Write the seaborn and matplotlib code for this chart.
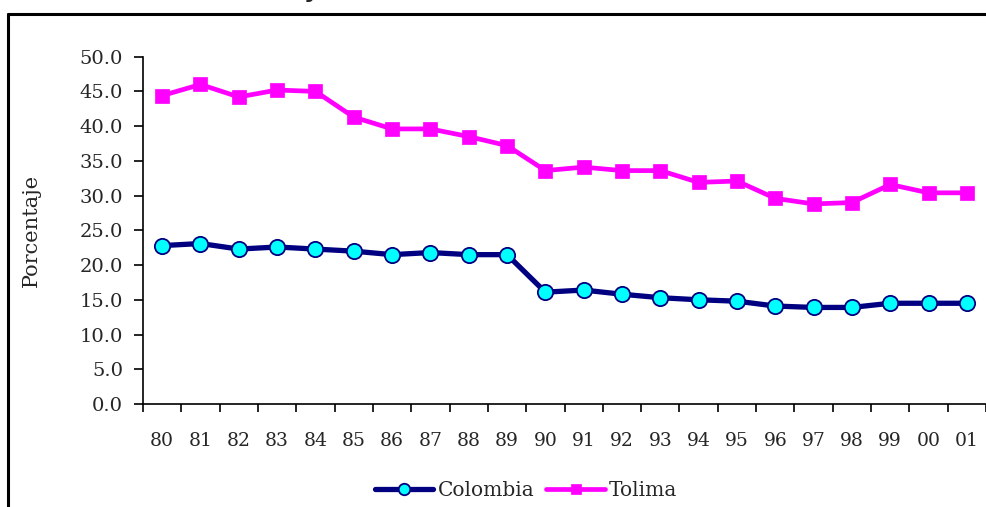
import matplotlib
matplotlib.use("Agg")
import matplotlib.pyplot as plt
from matplotlib.lines import Line2D
import seaborn as sns
import pandas as pd

years = ["80", "81", "82", "83", "84", "85", "86", "87", "88", "89", "90",
         "91", "92", "93", "94", "95", "96", "97", "98", "99", "00", "01"]
colombia = [22.8, 23.1, 22.3, 22.6, 22.3, 22.0, 21.5, 21.8, 21.5, 21.5, 16.1,
            16.4, 15.8, 15.3, 15.0, 14.8, 14.1, 13.9, 13.9, 14.5, 14.5, 14.5]
tolima = [44.4, 46.0, 44.2, 45.2, 45.0, 41.3, 39.6, 39.6, 38.5, 37.2, 33.6,
          34.1, 33.6, 33.6, 31.9, 32.1, 29.6, 28.8, 29.0, 31.6, 30.4, 30.4]
series_names = ["Colombia", "Tolima"]
yticks = [0, 5, 10, 15, 20, 25, 30, 35, 40, 45, 50]

sns.set_theme(style="white")
plt.rcParams["font.family"] = ["DejaVu Serif"]

df = pd.DataFrame({"pos": list(range(len(years))) * 2,
                   "valor": colombia + tolima,
                   "serie": [series_names[0]] * len(years) + [series_names[1]] * len(years)})

fig = plt.figure(figsize=(9.87, 5.07), dpi=100)
ax = fig.add_axes([0.1449, 0.2032, 0.8541, 0.685])

sns.lineplot(data=df[df.serie == "Colombia"], x="pos", y="valor", ax=ax,
             color="#000080", lw=3.8, marker="o", markersize=11,
             markerfacecolor="#00FFFF", markeredgecolor="#000080",
             markeredgewidth=1.3, label="Colombia")
sns.lineplot(data=df[df.serie == "Tolima"], x="pos", y="valor", ax=ax,
             color="#FF00FF", lw=3.4, marker="s", markersize=10.5,
             markerfacecolor="#FF00FF", markeredgecolor="#FF00FF",
             markeredgewidth=0.5, label="Tolima")

ax.set_xlim(-0.5, len(years) - 0.5)
ax.set_ylim(0, 50)
ax.set_yticks(yticks)
ax.set_yticklabels([f"{v:.1f}" for v in yticks], fontsize=14)
ax.set_xticks([i - 0.5 for i in range(len(years) + 1)])
ax.set_xticklabels([])
ax.set_xticks(list(range(len(years))), minor=True)
ax.set_xticklabels(years, minor=True, fontsize=13.5)
ax.tick_params(axis="x", which="major", bottom=True, direction="out", length=6,
               width=1.2, color="black")
ax.tick_params(axis="x", which="minor", bottom=False, length=0, pad=20)
ax.tick_params(axis="y", left=True, direction="out", length=6.5, width=1.2,
               color="black", pad=8)
for s in ["top", "right"]:
    ax.spines[s].set_visible(False)
for s in ["left", "bottom"]:
    ax.spines[s].set_color("black")
    ax.spines[s].set_linewidth(1.2)
ax.set_xlabel("")
ax.set_ylabel("Porcentaje", fontsize=15)
ax.yaxis.set_label_coords(-0.121, 0.5)

leg = ax.legend(loc="center", bbox_to_anchor=(0.533, 0.033), bbox_transform=fig.transFigure,
                ncol=2, frameon=False, fontsize=14.5, handlelength=2.9,
                handletextpad=0.2, columnspacing=0.6, markerscale=0.75)

# outer frame of the chart area
fig.add_artist(Line2D([0.0081, 0.0081], [-0.02, 0.9724], color="black", lw=2.2,
                      transform=fig.transFigure))
fig.add_artist(Line2D([0.0081, 1.02], [0.9724, 0.9724], color="black", lw=2.2,
                      transform=fig.transFigure))
# clipped title remnant (cut off at the top edge, as in the reference)
fig.text(0.3155, 1.006, "y", fontsize=17, fontweight="bold", ha="center", va="baseline",
         family="DejaVu Sans")

fig.savefig("out.png", dpi=100, facecolor="white")
